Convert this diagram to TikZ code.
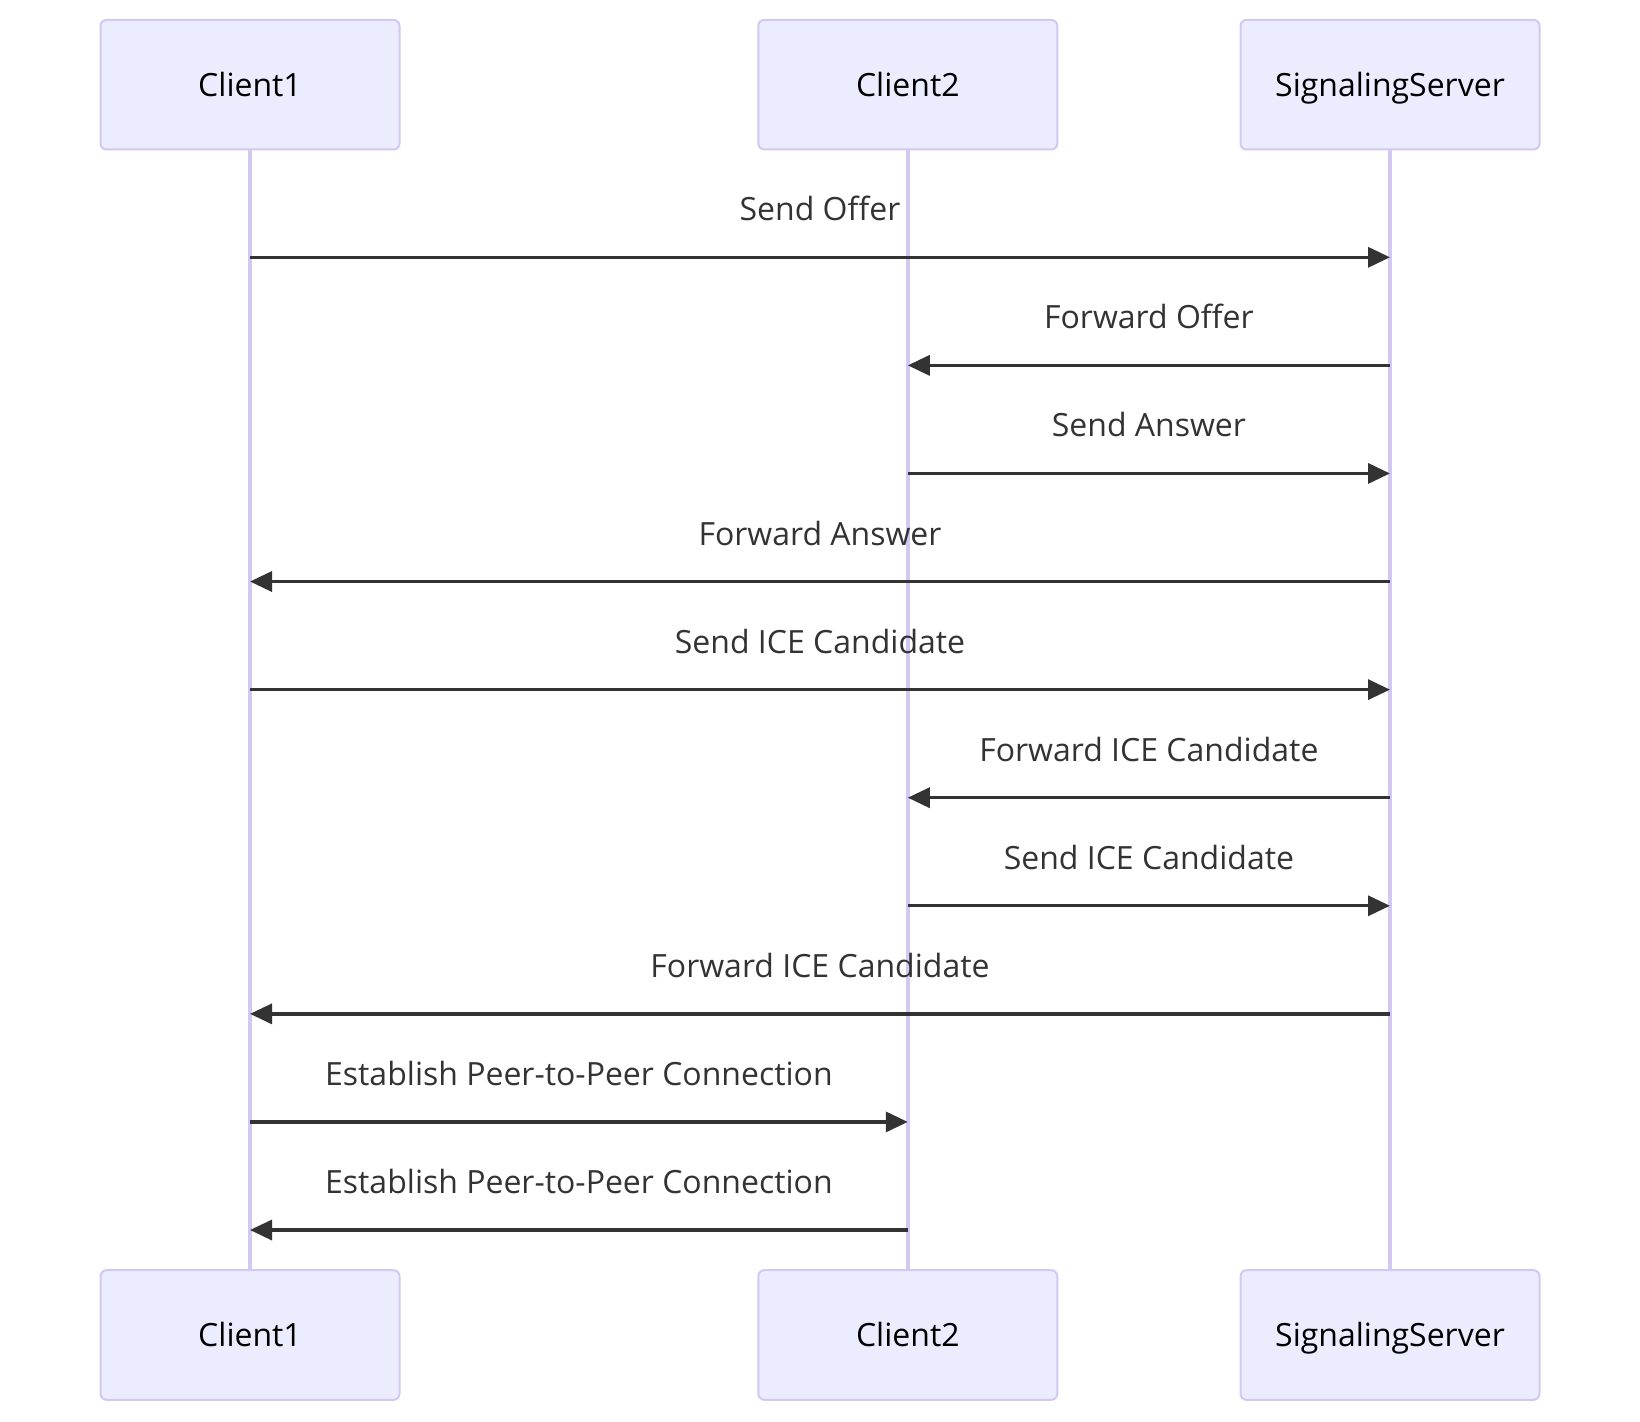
\documentclass[tikz,border=0pt]{standalone}
\usepackage{fontspec}
\setmainfont{Open Sans}
\usetikzlibrary{arrows.meta}
\definecolor{actorfill}{HTML}{ECECFF}
\definecolor{actorline}{HTML}{D3C8F2}
\definecolor{msgcol}{HTML}{333333}
\tikzset{
  actor/.style={draw=actorline, fill=actorfill, line width=1pt, rounded corners=3pt,
    minimum width=149.5pt, minimum height=64.8pt, inner sep=0pt,
    text height=11.5pt, text depth=0pt,
    font=\fontsize{16}{19}\selectfont, text=black},
  lifeline/.style={draw=actorline, line width=2pt},
  msg/.style={draw=msgcol, line width=1.7pt, -{Triangle[length=11pt,width=10pt]}},
  msglabel/.style={font=\fontsize{16}{19}\selectfont, text=msgcol, yshift=24pt, inner sep=0pt,
    text height=11.5pt, text depth=0pt}
}
\begin{document}
\begin{tikzpicture}[x=0.5pt,y=0.5pt]
\useasboundingbox (0,0) rectangle (1640,-1422);
% actors, top and bottom
\node[actor] (c1top) at (250,-84.7) {Client1};
\node[actor] (c2top) at (907.8,-84.7) {Client2};
\node[actor] (srvtop) at (1390,-84.7) {SignalingServer};
\node[actor] (c1bot) at (250,-1335) {Client1};
\node[actor] (c2bot) at (907.8,-1335) {Client2};
\node[actor] (srvbot) at (1390,-1335) {SignalingServer};
% lifelines
\foreach \a in {c1,c2,srv}
\draw[lifeline] (\a top.south) -- (\a bot.north);
% messages
\foreach \src/\dst/\txt [count=\i from 0] in {
  c1/srv/Send Offer,
  srv/c2/Forward Offer,
  c2/srv/Send Answer,
  srv/c1/Forward Answer,
  c1/srv/Send ICE Candidate,
  srv/c2/Forward ICE Candidate,
  c2/srv/Send ICE Candidate,
  srv/c1/Forward ICE Candidate,
  c1/c2/Establish Peer-to-Peer Connection,
  c2/c1/Establish Peer-to-Peer Connection}
{
\coordinate (row\i) at (0,{-257.3-108.08*\i});
\draw[msg] (\src top |- row\i) -- node[msglabel] (lbl\i) {\txt} (\dst top |- row\i);
}
\end{tikzpicture}
\end{document}
